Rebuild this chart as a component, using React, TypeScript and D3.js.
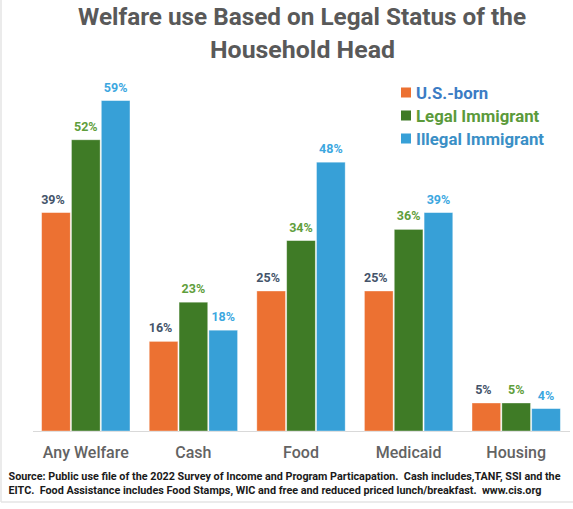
import * as d3 from "d3";

const categories = ["Any Welfare", "Cash", "Food", "Medicaid", "Housing"];
const seriesNames = ["U.S.-born", "Legal Immigrant", "Illegal Immigrant"];
const usBorn = [39, 16, 25, 25, 5];
const legalImmigrant = [52, 23, 34, 36, 5];
const illegalImmigrant = [59, 18, 48, 39, 4];

const barColors = ["#ec7132", "#3f7b26", "#37a0d7"];
const labelColors = ["#44546a", "#5f9e3c", "#3ca7df"];
const legendColors = ["#3b7cc4", "#5b9a3b", "#3a8fc6"];

const titleLines = ["Welfare use Based on Legal Status of the", "Household Head"];
const sourceLines = [
  "Source: Public use file of the 2022 Survey of Income and Program Particapation.  Cash includes,TANF, SSI and the",
  "EITC.  Food Assistance includes Food Stamps, WIC and free and reduced priced lunch/breakfast.  www.cis.org",
];

const width = 573;
const height = 509;
const baseY = 431;

export default function App() {
  const series = [usBorn, legalImmigrant, illegalImmigrant];

  const x0 = d3.scaleBand<string>()
    .domain(categories)
    .range([32, 570])
    .paddingInner(0.179)
    .paddingOuter(0.0895);

  const x1 = d3.scaleBand<number>()
    .domain([0, 1, 2])
    .range([0, x0.bandwidth()])
    .paddingInner(0.04);

  const y = d3.scaleLinear().domain([0, 60]).range([baseY, 95]);

  const font = "Roboto, 'Open Sans', sans-serif";

  return (
    <svg
      width={width}
      height={height}
      style={{ position: "absolute", left: 0, top: 0, display: "block", background: "#fff" }}
      fontFamily={font}
    >
      {/* faint frame of the screenshot */}
      <line x1={1} x2={1} y1={0} y2={502} stroke="#e4e4e4" strokeWidth={1.5} />
      <line x1={1} x2={573} y1={502} y2={502} stroke="#e4e4e4" strokeWidth={1.5} />

      {/* title */}
      <text x={302} y={25} textAnchor="middle" fontSize={24} fontWeight={700} fill="#595959"
        textLength={448} lengthAdjust="spacingAndGlyphs">
        {titleLines[0]}
      </text>
      <text x={302.5} y={58} textAnchor="middle" fontSize={24} fontWeight={700} fill="#595959"
        textLength={185} lengthAdjust="spacingAndGlyphs">
        {titleLines[1]}
      </text>

      {/* baseline */}
      <line x1={33} x2={570} y1={baseY + 0.5} y2={baseY + 0.5} stroke="#d9d9d9" strokeWidth={1} />

      {/* bars + value labels */}
      {categories.map((cat, i) => (
        <g key={cat} transform={`translate(${x0(cat)},0)`}>
          {series.map((vals, s) => {
            const bx = x1(s)!;
            const by = y(vals[i]);
            return (
              <g key={s}>
                <rect
                  x={bx}
                  y={by}
                  width={x1.bandwidth()}
                  height={baseY - by}
                  fill={barColors[s]}
                  stroke="#ffffff"
                  strokeOpacity={0.45}
                  strokeWidth={0.8}
                />
                <text
                  x={bx + x1.bandwidth() / 2 - (s === 0 ? 3 : 0)}
                  y={by - 9}
                  textAnchor="middle"
                  fontSize={12.5}
                  fontWeight={700}
                  fill={labelColors[s]}
                >
                  {vals[i]}%
                </text>
              </g>
            );
          })}
          <text
            x={x0.bandwidth() / 2}
            y={458}
            textAnchor="middle"
            fontSize={16}
            fontWeight={500}
            fill="#636363"
          >
            {cat}
          </text>
        </g>
      ))}

      {/* legend */}
      {seriesNames.map((name, s) => (
        <g key={name} transform={`translate(401,${92.5 + s * 23})`}>
          <rect x={0} y={-5} width={10} height={10} fill={barColors[s]} />
          <text x={15} y={6} fontSize={16.8} fontWeight={700} fill={legendColors[s]}>
            {name}
          </text>
        </g>
      ))}

      {/* source note */}
      <text x={8.5} y={480} fontSize={10.5} fontWeight={700} fill="#1a1a1a"
        textLength={552} lengthAdjust="spacingAndGlyphs" style={{ whiteSpace: "pre" }}>
        {sourceLines[0]}
      </text>
      <text x={8.5} y={493.5} fontSize={10.5} fontWeight={700} fill="#1a1a1a"
        textLength={533} lengthAdjust="spacingAndGlyphs" style={{ whiteSpace: "pre" }}>
        {sourceLines[1]}
      </text>
    </svg>
  );
}
